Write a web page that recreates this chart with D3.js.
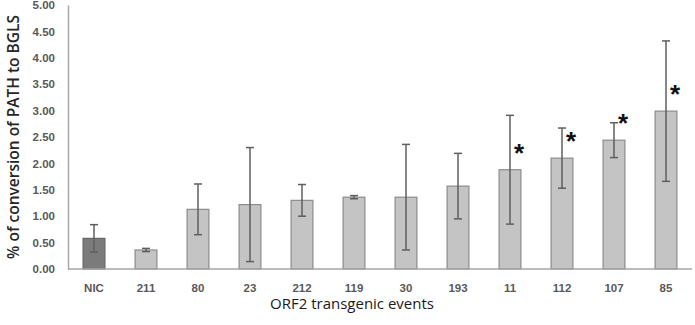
<!DOCTYPE html>
<html><head><meta charset="utf-8">
<script src="https://cdn.jsdelivr.net/npm/d3@7"></script>
<style>body{margin:0;background:#fff}svg{display:block}</style>
</head><body>
<svg id="c" width="695" height="325"></svg>
<script>
const categories = ["NIC","211","80","23","212","119","30","193","11","112","107","85"];
const means = [0.58,0.36,1.13,1.22,1.30,1.36,1.36,1.57,1.88,2.10,2.44,2.99];
const errors = [0.26,0.03,0.48,1.08,0.30,0.03,1.00,0.62,1.03,0.57,0.33,1.33];
const significant = ["11","112","107","85"];
const yTicks = [0,0.5,1,1.5,2,2.5,3,3.5,4,4.5,5];

const svg = d3.select("#c");
const x = d3.scaleBand().domain(categories).range([68,692]).paddingInner(0.58).paddingOuter(0.29);
const y = d3.scaleLinear().domain([0,5]).range([269,5]);
const font = "'Liberation Sans', Arial, sans-serif";

// y axis
const ya = svg.append("g").attr("transform","translate(68,0)")
  .call(d3.axisLeft(y).tickValues(yTicks).tickFormat(d3.format(".2f")).tickSize(0).tickPadding(13));
ya.select(".domain").attr("stroke","#a6a6a6").attr("stroke-width",1.5);
ya.selectAll("text").attr("fill","#595959").style("font-family",font).style("font-size","11.5px").style("font-weight","bold");

// bars
svg.append("g").selectAll("rect").data(categories).join("rect")
  .attr("x",d=>x(d)).attr("width",x.bandwidth())
  .attr("y",(d,i)=>y(means[i])).attr("height",(d,i)=>y(0)-y(means[i]))
  .attr("fill",(d,i)=>i===0?"#7b7b7b":"#c4c4c4")
  .attr("stroke",(d,i)=>i===0?"#666":"#8c8c8c").attr("stroke-width",1.2);

// x axis
const xa = svg.append("g").attr("transform","translate(0,269)")
  .call(d3.axisBottom(x).tickSize(0).tickPadding(15));
xa.select(".domain").attr("stroke","#a6a6a6").attr("stroke-width",1.5).attr("d","M68,0H692");
xa.selectAll("text").attr("fill","#595959").style("font-family",font).style("font-size","11.5px").style("font-weight","bold");

// error bars
const eg = svg.append("g").attr("stroke","#5f5f5f").attr("stroke-width",1.5);
categories.forEach((c,i)=>{
  const cx = x(c)+x.bandwidth()/2;
  const yt = y(means[i]+errors[i]), yb = y(means[i]-errors[i]);
  eg.append("line").attr("x1",cx).attr("x2",cx).attr("y1",yt).attr("y2",yb);
  eg.append("line").attr("x1",cx-4).attr("x2",cx+4).attr("y1",yt).attr("y2",yt);
  eg.append("line").attr("x1",cx-4).attr("x2",cx+4).attr("y1",yb).attr("y2",yb);
});

// asterisks
svg.append("g").selectAll("text").data(significant).join("text")
  .attr("x",d=>x(d)+x.bandwidth()/2+9)
  .attr("y",d=>y(means[categories.indexOf(d)])-8)
  .attr("text-anchor","middle").attr("fill","#111")
  .style("font-family",font).style("font-size","26px").style("font-weight","bold")
  .text("*");

// axis titles
svg.append("text").attr("transform","translate(19,137) rotate(-90)").attr("text-anchor","middle")
  .attr("fill","#262626").style("font-family","'Open Sans', sans-serif").style("font-size","15.5px").style("font-weight","600")
  .text("% of conversion of PATH to BGLS");
svg.append("text").attr("x",352).attr("y",309).attr("text-anchor","middle")
  .attr("fill","#1a1a1a").style("font-family","'Open Sans', sans-serif").style("font-size","15px").style("font-weight","500")
  .text("ORF2 transgenic events");
</script>
</body></html>
